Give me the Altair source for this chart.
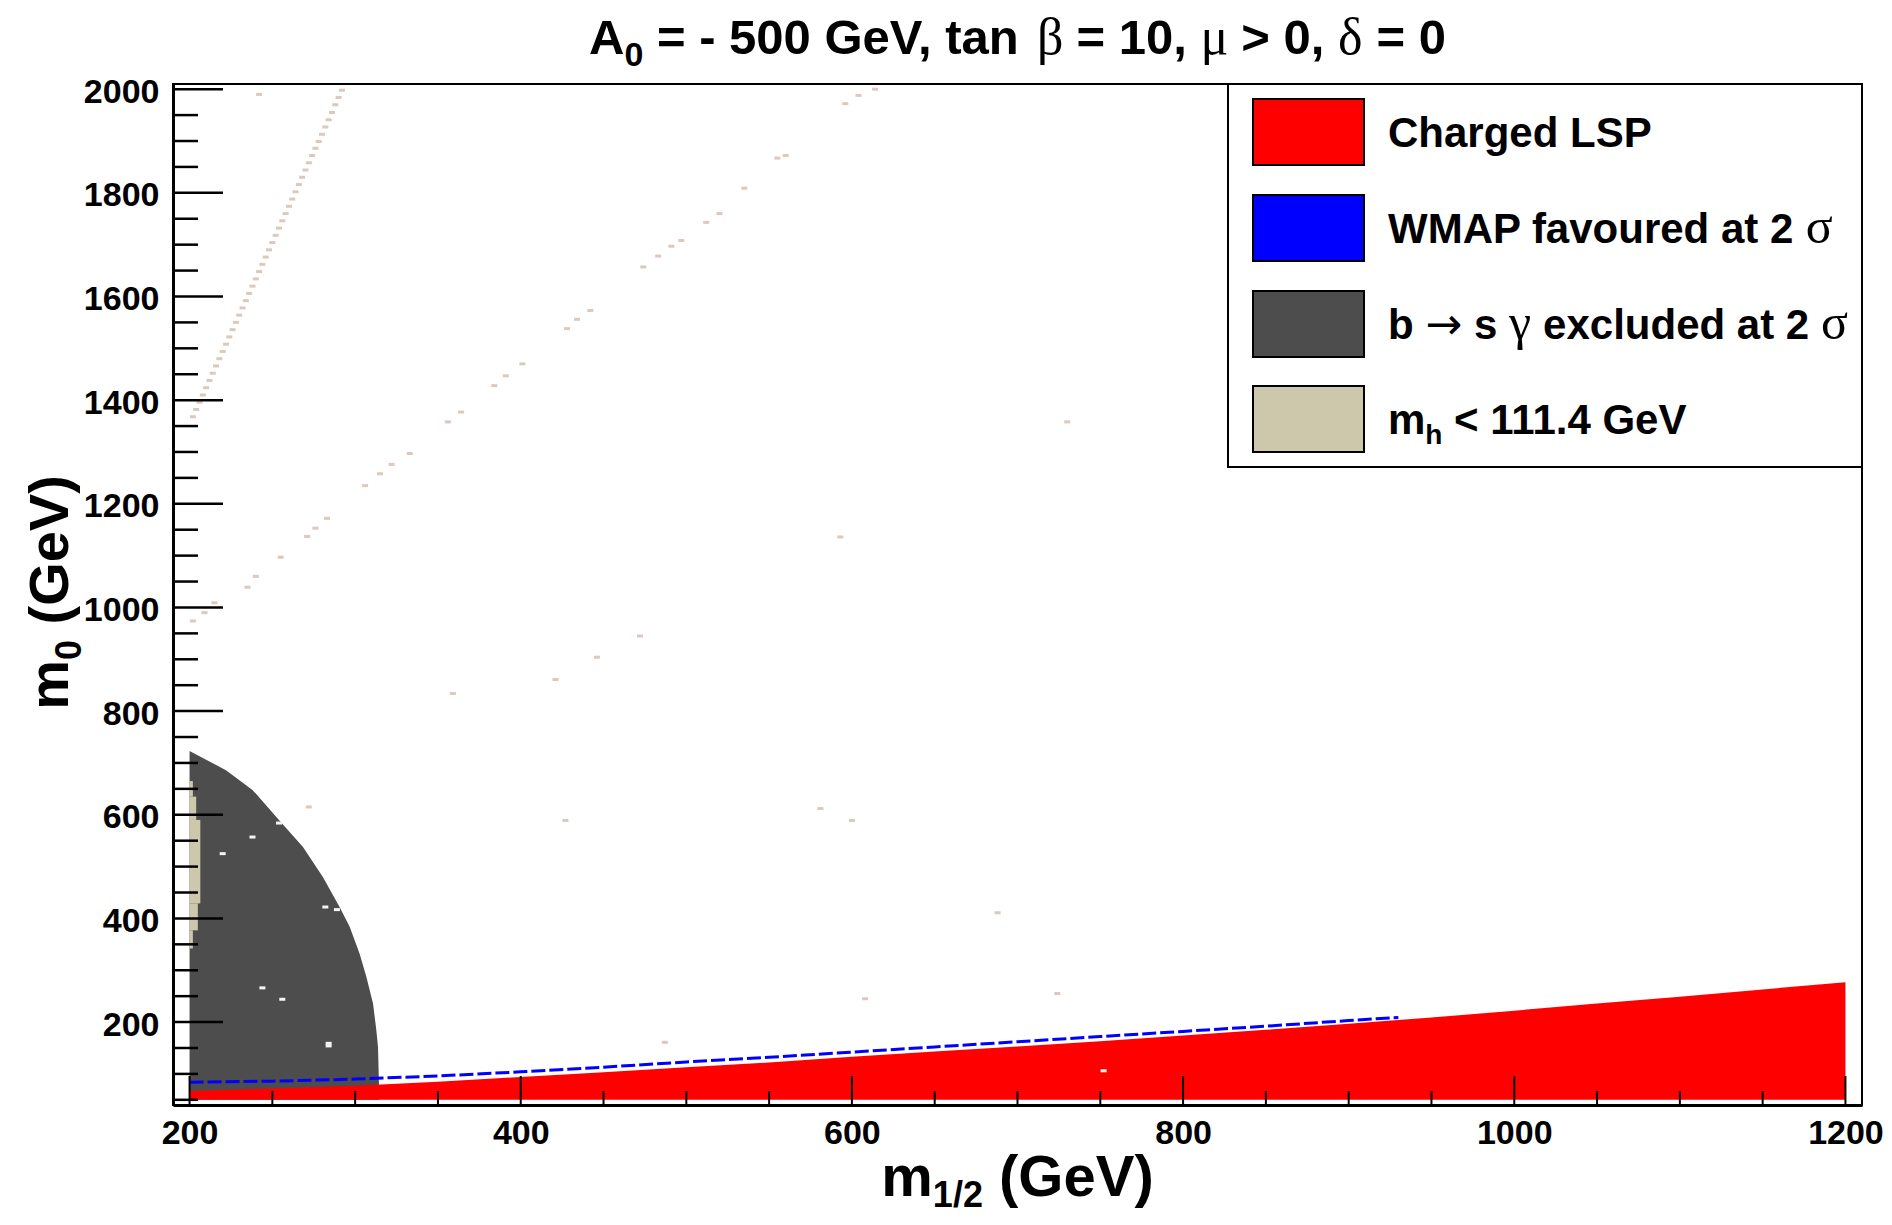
import altair as alt
import pandas as pd

# ---------------- data ----------------
# Charged LSP (red) upper boundary
m12_red = [200, 250, 300, 350, 400, 450, 500, 550, 600, 650, 700, 750, 800, 850, 900, 950, 1000, 1050, 1100, 1150, 1200]
m0_red = [67, 72, 77, 85, 94, 103, 113, 122, 133, 143, 153, 163, 174, 185, 197, 209, 222, 236, 249, 263, 277]

# WMAP favoured strip (blue, thin)
m12_wmap = [200, 250, 300, 350, 400, 450, 500, 550, 600, 650, 700, 750, 800, 850, 900, 930]
m0_wmap = [84, 86, 90, 96, 104, 113, 123, 132, 142, 152, 162, 172, 182, 192, 203, 209]

# b -> s gamma excluded (dark grey) upper boundary
m12_bsg = [200, 222, 238, 254, 268.5, 280.5, 290.6, 296.7, 302.7, 306.8, 310.8, 312.8, 313.8, 314.4]
m0_bsg = [723, 686, 648, 590, 538, 480, 422, 384, 332, 287, 236, 184, 152, 78]

# m_h < 111.4 GeV (beige) strip: m0 low, m0 high, m1/2 right edge
mh_lo = [635, 590, 429, 377, 342]
mh_hi = [665, 635, 590, 429, 377]
mh_x1 = [202, 204, 206.5, 205, 202]

# scattered light points
dots_x = [292, 290, 288, 286, 284, 282, 280, 278, 276, 274, 272, 270, 268, 266, 264, 262, 260, 258,
          256, 254, 252, 250, 248, 246, 244, 242, 240, 238, 236, 234, 232, 230, 228, 226, 224, 222,
          220, 218, 216, 214, 212, 210, 208, 206, 204, 202,
          202, 209, 215, 235, 240, 255, 271, 276, 283, 306, 315, 322, 333, 356, 364, 384, 391, 401,
          428, 434, 442, 474, 483, 491, 497, 512, 520, 535, 555, 560, 596, 604, 614,
          242, 730, 593, 472, 446, 421, 359, 272, 427, 581, 600, 688, 724, 608, 487]
dots_y = [1998, 1984, 1970, 1955, 1941, 1927, 1913, 1899, 1886, 1872, 1858, 1844, 1830, 1816, 1802, 1788, 1774, 1760,
          1746, 1732, 1718, 1704, 1690, 1676, 1662, 1648, 1634, 1620, 1606, 1592, 1578, 1564, 1550, 1536, 1522, 1508,
          1494, 1480, 1466, 1452, 1438, 1424, 1410, 1396, 1382, 1368,
          974, 990, 1009, 1039, 1060, 1097, 1137, 1153, 1172, 1235, 1258, 1276, 1297, 1358, 1377, 1428, 1447, 1470,
          1538, 1556, 1573, 1657, 1678, 1697, 1708, 1743, 1760, 1809, 1867, 1872, 1972, 1988, 2000,
          1990, 1358, 1136, 945, 904, 861, 834, 615, 589, 612, 589, 411, 255, 245, 161]

holes_x = [238, 220, 254, 282, 289, 244, 256, 284, 284, 752]
holes_y = [557, 525, 584, 422, 417, 266, 244, 159, 154, 106]

x_major = [200, 400, 600, 800, 1000, 1200]
x_minor = [250, 300, 350, 450, 500, 550, 650, 700, 750, 850, 900, 950, 1050, 1100, 1150]
y_major = [200, 400, 600, 800, 1000, 1200, 1400, 1600, 1800, 2000]
y_minor = [50, 100, 150, 250, 300, 350, 450, 500, 550, 650, 700, 750, 850, 900, 950, 1050, 1100, 1150,
           1250, 1300, 1350, 1450, 1500, 1550, 1650, 1700, 1750, 1850, 1900, 1950]

legend_colors = ["#ff0000", "#0000ff", "#4d4d4d", "#cdc8ac"]

# ---------------- layout ----------------
W, H = 1689, 1021
SANS = "Liberation Sans"
SERIF = "Liberation Serif"
ARROWF = "DejaVu Sans"

SANS_W = {' ': 278, '-': 333, '=': 584, '>': 584, '<': 584, ',': 278, '.': 278, '/': 278, '(': 333, ')': 333,
          'A': 722, 'C': 722, 'G': 778, 'L': 611, 'M': 833, 'P': 667, 'S': 667, 'V': 667, 'W': 944,
          'a': 556, 'b': 611, 'c': 556, 'd': 611, 'e': 556, 'f': 333, 'g': 611, 'h': 611, 'l': 278,
          'm': 889, 'n': 611, 'o': 611, 'p': 611, 'r': 389, 's': 556, 't': 333, 'u': 611, 'v': 556, 'x': 556}
SERIF_W = {' ': 250, 'β': 500, 'μ': 520, 'δ': 480, 'σ': 560, 'γ': 450}
ARROW_W = {'→': 838, ' ': 318}
TABLES = {'b': SANS_W, 's': SERIF_W, 'a': ARROW_W}


def seg_w(t, kind, size):
    tbl = TABLES[kind]
    return sum(tbl.get(c, 556) for c in t) * size / 1000.0


def compose(segs, x0, y0, center=False, rot=False):
    total = sum(seg_w(t, k, s) for t, k, s, d in segs)
    pos = -total / 2 if center else 0.0
    rows = []
    for t, k, s, d in segs:
        lead = len(t) - len(t.lstrip(' '))
        p = pos + seg_w(t[:lead], k, s)
        if t.strip():
            if rot:
                rows.append(dict(px=x0 + d, py=y0 - p, text=t.strip(), size=s, kind=k, rot=1))
            else:
                rows.append(dict(px=x0 + p, py=y0 + d, text=t.strip(), size=s, kind=k, rot=0))
        pos += seg_w(t, k, s)
    return rows


rows = []
# title
TS, GS = 49, 52
rows += compose([("A", 'b', TS, 0), ("0", 'b', 34, 12), (" = - 500 GeV, tan ", 'b', TS, 0), ("β", 's', GS, 0),
                 (" = 10, ", 'b', TS, 0), ("μ", 's', GS, 0), (" > 0, ", 'b', TS, 0), ("δ", 's', GS, 0),
                 (" = 0", 'b', TS, 0)], W / 2, -30, center=True)
# x title
rows += compose([("m", 'b', 58, 0), ("1/2", 'b', 36, 11), (" (GeV)", 'b', 58, 0)], W / 2, 1112, center=True)
# y title (rotated)
rows += compose([("m", 'b', 56, 0), ("0", 'b', 36, 13), (" (GeV)", 'b', 56, 0)], -105, H / 2 - 2, center=True, rot=True)
# legend labels
LX, LS, LG = 1215, 42, 50
rows += compose([("Charged LSP", 'b', LS, 0)], LX, 63)
rows += compose([("WMAP favoured at 2 ", 'b', LS, 0), ("σ", 's', LG, 0)], LX, 159)
rows += compose([("b ", 'b', LS, 0), ("→", 'a', 44, 0), (" s ", 'b', LS, 0), ("γ", 's', LG, 0),
                 (" excluded at 2 ", 'b', LS, 0), ("σ", 's', LG, 0)], LX, 255)
rows += compose([("m", 'b', LS, 0), ("h", 'b', 28, 10), (" < 111.4 GeV", 'b', LS, 0)], LX, 350)

one = pd.DataFrame({"a": [0]})

# ---------------- chart ----------------
xs = alt.Scale(domain=[190, 1210], nice=False, zero=False)
ys = alt.Scale(domain=[40, 2010], nice=False, zero=False)
lab = dict(labelFont=SANS, labelFontWeight="bold", labelFontSize=34, labelColor="black", format="d",
           ticks=False, domain=True, domainColor="black", domainWidth=3, grid=False, title=None)
xaxis = alt.Axis(values=x_major, labelPadding=11, labelFlush=False, **lab)
yaxis = alt.Axis(values=y_major, labelPadding=14, labelOffset=3, **lab)

grey = alt.Chart(pd.DataFrame({"m12": m12_bsg, "m0": m0_bsg, "b": [50] * len(m12_bsg)})).mark_area(
    color="#4d4d4d", opacity=1).encode(
    x=alt.X("m12:Q", scale=xs, axis=xaxis), y=alt.Y("m0:Q", scale=ys, axis=yaxis), y2="b:Q")

beige = alt.Chart(pd.DataFrame({"lo": mh_lo, "hi": mh_hi, "x0": [200] * len(mh_lo), "x1": mh_x1})).mark_rect(
    color="#cdc8ac").encode(x="x0:Q", x2="x1:Q", y="lo:Q", y2="hi:Q")

red = alt.Chart(pd.DataFrame({"m12": m12_red, "m0": m0_red, "b": [50] * len(m12_red)})).mark_area(
    color="#ff0000", opacity=1).encode(x="m12:Q", y="m0:Q", y2="b:Q")

blue = alt.Chart(pd.DataFrame({"m12": m12_wmap, "m0": m0_wmap})).mark_line(
    color="#0000ff", strokeWidth=3, strokeDash=[14, 4]).encode(x="m12:Q", y="m0:Q")

dots = alt.Chart(pd.DataFrame({"m12": dots_x, "m0": dots_y})).mark_rect(
    width=6, height=3, color="#dcc8bd").encode(x="m12:Q", y="m0:Q")

holes = alt.Chart(pd.DataFrame({"m12": holes_x, "m0": holes_y})).mark_rect(
    width=6, height=3, color="#f4f4f4").encode(x="m12:Q", y="m0:Q")

xmaj = alt.Chart(pd.DataFrame({"v": x_major})).mark_rule(color="black", strokeWidth=2).encode(
    x="v:Q", y=alt.value(H), y2=alt.value(H - 29))
xmin = alt.Chart(pd.DataFrame({"v": x_minor})).mark_rule(color="black", strokeWidth=2).encode(
    x="v:Q", y=alt.value(H), y2=alt.value(H - 14))
ymaj = alt.Chart(pd.DataFrame({"v": y_major})).mark_rule(color="black", strokeWidth=2.5).encode(
    y="v:Q", x=alt.value(0), x2=alt.value(50))
ymin = alt.Chart(pd.DataFrame({"v": y_minor})).mark_rule(color="black", strokeWidth=2.5).encode(
    y="v:Q", x=alt.value(0), x2=alt.value(25))

layers = [grey, beige, red, blue, dots, holes, xmaj, xmin, ymaj, ymin]

layers.append(alt.Chart(one).mark_rect(fill="white", stroke="black", strokeWidth=2).encode(
    x=alt.value(1055), x2=alt.value(W), y=alt.value(0), y2=alt.value(383)))
sw_y0 = [15, 111, 207, 302]
sw_y1 = [81, 177, 273, 368]
for c, a0, a1 in zip(legend_colors, sw_y0, sw_y1):
    layers.append(alt.Chart(one).mark_rect(fill=c, stroke="black", strokeWidth=2).encode(
        x=alt.value(1080), x2=alt.value(1191), y=alt.value(a0), y2=alt.value(a1)))

for r in rows:
    kw = dict(text=r["text"], fontSize=r["size"], align="left", baseline="alphabetic", color="black")
    if r["kind"] == 'b':
        kw.update(font=SANS, fontWeight="bold")
    elif r["kind"] == 's':
        kw.update(font=SERIF, fontWeight="normal")
    else:
        kw.update(font=ARROWF, fontWeight="normal")
    if r["rot"]:
        kw.update(angle=270)
    layers.append(alt.Chart(one).mark_text(**kw).encode(x=alt.value(r["px"]), y=alt.value(r["py"])))

chart = alt.layer(*layers).properties(
    width=W, height=H,
    padding={"left": 165, "top": 76, "right": 22, "bottom": 112},
    autosize=alt.AutoSizeParams(type="none"),
    background="white",
).configure_view(stroke="black", strokeWidth=2)

chart.save("out.html", embed_options={"renderer": "svg", "actions": False})
